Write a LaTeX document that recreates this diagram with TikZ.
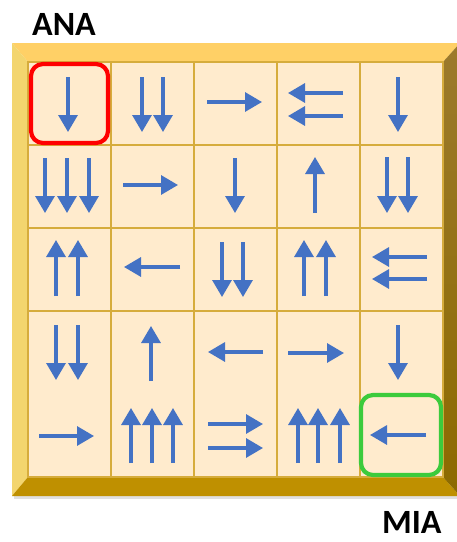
\documentclass[tikz,border=0pt]{standalone}
\usepackage{fontspec}
\setmainfont{Carlito}
\usetikzlibrary{arrows.meta}
\definecolor{cellfill}{HTML}{FFEBCD}
\definecolor{gridln}{HTML}{D6AC3C}
\definecolor{bevtop}{HTML}{FFD066}
\definecolor{bevleft}{HTML}{F3D56E}
\definecolor{bevbot}{HTML}{BF9000}
\definecolor{bevrtA}{HTML}{9C7A2C}
\definecolor{bevrtB}{HTML}{8C6A00}
\definecolor{arrblue}{HTML}{4472C4}
\definecolor{boxred}{HTML}{FF0000}
\definecolor{boxgreen}{HTML}{3CCB3C}
\tikzset{
  blarrow/.style={draw=arrblue, line width=3.2pt, -{Triangle[length=17pt,width=19pt]}},
  markbox/.style={line width=4.2pt, rounded corners=12pt},
  gridstyle/.style={draw=gridln, line width=1.5pt},
  label/.style={font=\bfseries\fontsize{34}{34}\selectfont, anchor=base west, inner sep=0pt, text depth=0pt}
}
\newcommand{\arw}[4]{\draw[blarrow] (#1,#2) -- (#3,#4);}
\begin{document}
\begin{tikzpicture}[x=1pt,y=-1pt]
\useasboundingbox (0,0) rectangle (457,542);
% shadow
\fill[black!12] (14,496) rectangle (460,499);
% bevel frame
\fill[bevtop] (12,43) -- (460,43) -- (443,62) -- (28,62) -- cycle;
\fill[bevleft] (12,43) -- (28,62) -- (28,477) -- (12,496) -- cycle;
\fill[bevbot] (12,496) -- (28,477) -- (443,477) -- (460,496) -- cycle;
\shade[top color=bevrtA, bottom color=bevrtB] (460,43) -- (443,62) -- (443,477) -- (460,496) -- cycle;
% cells
\fill[cellfill] (28,62) rectangle (443,477);
\foreach \k in {111,194,277,360} {
  \draw[gridstyle] (\k,62) -- (\k,477);
  \draw[gridstyle] (28,\k-49) -- (443,\k-49);
}
\draw[gridstyle] (28,62) rectangle (443,477);
% row 0
\arw{68}{77}{68}{132}
\arw{142}{77}{142}{132}
\arw{163}{77}{163}{132}
\arw{207}{102}{262}{102}
\arw{343}{93}{288}{93}
\arw{343}{116}{288}{116}
\arw{398}{77}{398}{132}
% row 1
\foreach \x in {45,67,89} {\arw{\x}{158}{\x}{213}}
\arw{123}{185}{178}{185}
\arw{235}{158}{235}{213}
\arw{315}{213}{315}{157}
\arw{387}{157}{387}{213}
\arw{408}{157}{408}{213}
% row 2
\arw{56}{296}{56}{240}
\arw{78}{296}{78}{240}
\arw{180}{267}{124}{267}
\arw{222}{242}{222}{297}
\arw{243}{242}{243}{297}
\arw{304}{296}{304}{240}
\arw{326}{296}{326}{240}
\arw{427}{257}{372}{257}
\arw{427}{279}{372}{279}
% row 3
\arw{56}{325}{56}{380}
\arw{78}{325}{78}{380}
\arw{151}{381}{151}{326}
\arw{263}{352}{208}{352}
\arw{288}{353}{344}{353}
\arw{398}{325}{398}{380}
% row 4
\arw{39}{436}{94}{436}
\foreach \x in {131,152,173} {\arw{\x}{463}{\x}{408}}
\arw{208}{424}{263}{424}
\arw{208}{448}{263}{448}
\foreach \x in {298,318,340} {\arw{\x}{463}{\x}{408}}
\arw{426}{435}{370}{435}
% marker boxes
\draw[markbox, draw=boxred] (31,64) rectangle (108,143);
\draw[markbox, draw=boxgreen] (361,395) rectangle (441,475);
% labels
\node[label] (ana) at (32,35) {ANA};
\node[label] (mia) at (382,533) {MIA};
\end{tikzpicture}
\end{document}
